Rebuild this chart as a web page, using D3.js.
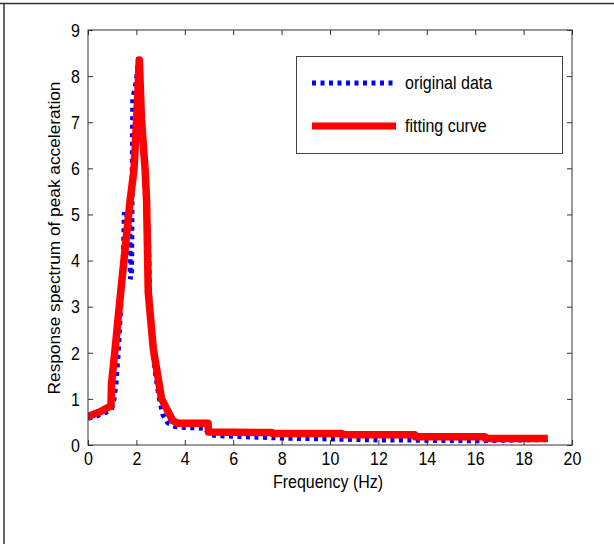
<!DOCTYPE html>
<html>
<head>
<meta charset="utf-8">
<script src="https://cdn.jsdelivr.net/npm/d3@7"></script>
<style>
  body { margin: 0; background: #fff; }
  svg text { font-family: "Liberation Sans", Arial, sans-serif; fill: #000; font-size: 16px; }
</style>
</head>
<body>
<svg id="chart"></svg>
<script>
// original data (blue dotted)
let origFreq = [0, 0.3, 0.6, 0.95, 1.05, 1.15, 1.25, 1.35, 1.42, 1.45, 1.5, 1.72, 1.75, 1.8, 1.85, 2.0, 2.1, 2.2, 2.25, 2.4, 2.5, 2.55, 2.65, 2.8, 2.95, 3.1, 3.3, 3.6, 4.0, 4.5, 4.85, 4.92, 5.0, 5.5, 6, 7, 8, 9, 10, 11, 12, 13, 14, 15, 16, 17, 18, 19];
let origAmp  = [0.58, 0.62, 0.68, 0.75, 0.9, 1.3, 2.0, 3.0, 3.8, 3.8, 5.0, 5.0, 3.6, 3.7, 7.5, 7.9, 8.45, 7.4, 6.5, 5.6, 4.5, 3.2, 2.2, 1.5, 1.0, 0.65, 0.48, 0.4, 0.38, 0.37, 0.36, 0.3, 0.22, 0.2, 0.19, 0.17, 0.15, 0.14, 0.13, 0.12, 0.11, 0.11, 0.1, 0.1, 0.09, 0.1, 0.11, 0.12];

// fitting curve (red)
let fitFreq = [0, 0.5, 0.95, 0.97, 1.12, 1.32, 1.74, 1.9, 2.01, 2.12, 2.21, 2.36, 2.42, 2.49, 2.7, 3.04, 3.5, 3.7, 4.96, 4.98, 7.6, 7.62, 10.5, 10.52, 13.5, 13.52, 16.4, 16.42, 19];
let fitAmp  = [0.62, 0.72, 0.85, 1.32, 2.08, 3.16, 5.3, 5.97, 7.06, 8.35, 7.06, 5.97, 5.3, 3.31, 2.08, 1.0, 0.53, 0.47, 0.47, 0.28, 0.27, 0.25, 0.25, 0.22, 0.22, 0.18, 0.18, 0.14, 0.14];

let xTicks = d3.range(0, 21, 2);
let yTicks = d3.range(0, 10, 1);
let legendNames = ['original data', 'fitting curve'];

let width = 614, height = 544;
let box = { left: 88, right: 572, top: 30, bottom: 445 };
let stretch = 1.13; // the picture is a bit taller than wide, text too

let svg = d3.select('#chart')
    .attr('width', width)
    .attr('height', height);

// outer frame lines
svg.append('line').attr('x1', 0).attr('x2', width).attr('y1', 3.5).attr('y2', 3.5)
    .attr('stroke', '#333').attr('stroke-width', 1.5);
svg.append('line').attr('x1', 4).attr('x2', 4).attr('y1', 3).attr('y2', height)
    .attr('stroke', '#333').attr('stroke-width', 1.5);

let x = d3.scaleLinear().domain([0, 20]).range([box.left, box.right]);
let y = d3.scaleLinear().domain([0, 9]).range([box.bottom, box.top]);

svg.append('clipPath').attr('id', 'clip')
    .append('rect')
    .attr('x', box.left).attr('y', box.top)
    .attr('width', box.right - box.left).attr('height', box.bottom - box.top);

let line = d3.line().x(d => x(d[0])).y(d => y(d[1]));

let plot = svg.append('g').attr('clip-path', 'url(#clip)');

plot.append('path')
    .datum(origFreq.map((f, i) => [f, origAmp[i]]))
    .attr('d', line)
    .attr('fill', 'none')
    .attr('stroke', '#0000ff')
    .attr('stroke-width', 5)
    .attr('stroke-dasharray', '4,4.5');

plot.append('path')
    .datum(fitFreq.map((f, i) => [f, fitAmp[i]]))
    .attr('d', line)
    .attr('fill', 'none')
    .attr('stroke', '#ff0000')
    .attr('stroke-width', 7.5)
    .attr('stroke-linejoin', 'round');

// axes, inward ticks like matlab
let styleAxis = g => {
    g.select('.domain').remove();
    g.selectAll('line').attr('stroke', '#333');
    g.selectAll('text').attr('fill', '#000').style('font-size', null);
};

svg.append('g')
    .attr('transform', `translate(0,${box.bottom})`)
    .call(d3.axisBottom(x).tickValues(xTicks).tickSizeInner(-5).tickSizeOuter(0))
    .call(styleAxis)
    .selectAll('text')
    .attr('y', 0).attr('dy', 0)
    .attr('transform', `translate(0,20) scale(1,${stretch})`);
svg.append('g')
    .attr('transform', `translate(0,${box.top})`)
    .call(d3.axisTop(x).tickValues(xTicks).tickSizeInner(-5).tickSizeOuter(0).tickFormat(''))
    .call(styleAxis);
svg.append('g')
    .attr('transform', `translate(${box.left},0)`)
    .call(d3.axisLeft(y).tickValues(yTicks).tickSizeInner(-5).tickSizeOuter(0))
    .call(styleAxis)
    .selectAll('text')
    .attr('x', 0).attr('dy', 0)
    .attr('transform', `translate(-8,6.3) scale(1,${stretch})`);
svg.append('g')
    .attr('transform', `translate(${box.right},0)`)
    .call(d3.axisRight(y).tickValues(yTicks).tickSizeInner(-5).tickSizeOuter(0).tickFormat(''))
    .call(styleAxis);

svg.append('rect')
    .attr('x', box.left).attr('y', box.top)
    .attr('width', box.right - box.left).attr('height', box.bottom - box.top)
    .attr('fill', 'none').attr('stroke', '#333').attr('stroke-width', 1);

svg.append('text')
    .attr('transform', `translate(328,488) scale(1,${stretch})`)
    .attr('text-anchor', 'middle')
    .text('Frequency (Hz)');

svg.append('text')
    .attr('transform', `translate(60,238) rotate(-90) scale(1.08,1)`)
    .attr('text-anchor', 'middle')
    .text('Response spectrum of peak acceleration');

// legend
let legend = svg.append('g');
legend.append('rect')
    .attr('x', 296.5).attr('y', 56.5).attr('width', 266).attr('height', 97)
    .attr('fill', '#fff').attr('stroke', '#444').attr('stroke-width', 1);

let legendStyle = [
    { color: '#0000ff', w: 5, dash: '4,4.5' },
    { color: '#ff0000', w: 7, dash: null }
];
legendNames.forEach((name, i) => {
    let ly = 83 + i * 43;
    legend.append('line')
        .attr('x1', 312).attr('x2', 396).attr('y1', ly).attr('y2', ly)
        .attr('stroke', legendStyle[i].color)
        .attr('stroke-width', legendStyle[i].w)
        .attr('stroke-dasharray', legendStyle[i].dash);
    legend.append('text')
        .attr('transform', `translate(405,${ly + 5.5}) scale(1,${stretch})`)
        .text(name);
});
</script>
</body>
</html>
